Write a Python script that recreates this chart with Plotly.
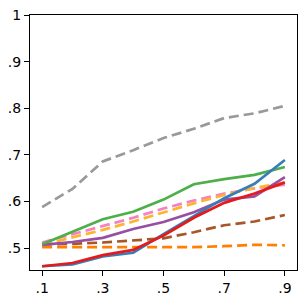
import plotly.graph_objects as go

x = [0.1, 0.2, 0.3, 0.4, 0.5, 0.6, 0.7, 0.8, 0.9]

gray = [0.588, 0.627, 0.686, 0.710, 0.736, 0.756, 0.779, 0.789, 0.805]
orange = [0.502, 0.502, 0.501, 0.501, 0.502, 0.502, 0.504, 0.507, 0.506]
brown = [0.508, 0.509, 0.512, 0.516, 0.521, 0.534, 0.549, 0.557, 0.571]
pink = [0.512, 0.530, 0.547, 0.565, 0.585, 0.602, 0.617, 0.628, 0.636]
yellow = [0.507, 0.523, 0.539, 0.557, 0.577, 0.596, 0.614, 0.629, 0.640]
purple = [0.507, 0.513, 0.522, 0.541, 0.556, 0.577, 0.604, 0.611, 0.652]
green = [0.508, 0.535, 0.562, 0.578, 0.604, 0.637, 0.648, 0.657, 0.674]
blue = [0.461, 0.465, 0.482, 0.490, 0.530, 0.568, 0.607, 0.638, 0.689]
red = [0.461, 0.468, 0.485, 0.496, 0.527, 0.565, 0.597, 0.617, 0.641]

x_ticks = [0.1, 0.3, 0.5, 0.7, 0.9]
x_ticktext = [".1", ".3", ".5", ".7", ".9"]
y_ticks = [0.5, 0.6, 0.7, 0.8, 0.9, 1.0]
y_ticktext = [".5", ".6", ".7", ".8", ".9", "1"]

series = [
    (gray, "#999999", True),
    (orange, "#ff7f00", True),
    (brown, "#a65628", True),
    (pink, "#f781bf", True),
    (yellow, "#fdb42f", True),
    (purple, "#984ea3", False),
    (green, "#4daf4a", False),
    (blue, "#377eb8", False),
    (red, "#e41a1c", False),
]

fig = go.Figure()
for ys, color, dashed in series:
    fig.add_trace(go.Scatter(
        x=x, y=ys, mode="lines",
        line=dict(color=color, width=2.7, dash="10px,5px" if dashed else "solid"),
        showlegend=False, hoverinfo="skip",
    ))

axis_common = dict(
    showgrid=False, zeroline=False, showline=True, linecolor="black", linewidth=1,
    mirror=True, ticks="outside", ticklen=5, tickwidth=1, tickcolor="black",
    tickfont=dict(family="DejaVu Sans", size=14, color="black"),
)
fig.update_xaxes(range=[0.06, 0.94], tickvals=x_ticks, ticktext=x_ticktext, **axis_common)
fig.update_yaxes(range=[0.453, 1.0], tickvals=y_ticks, ticktext=y_ticktext, **axis_common)

fig.update_layout(
    width=300, height=300,
    margin=dict(l=30, r=3, t=15, b=30, autoexpand=False),
    paper_bgcolor="white", plot_bgcolor="white",
)
fig.write_html(
    "out.html",
    config={"displayModeBar": False, "staticPlot": True},
    post_script="document.body.style.margin='0';document.body.style.overflow='hidden';",
)
